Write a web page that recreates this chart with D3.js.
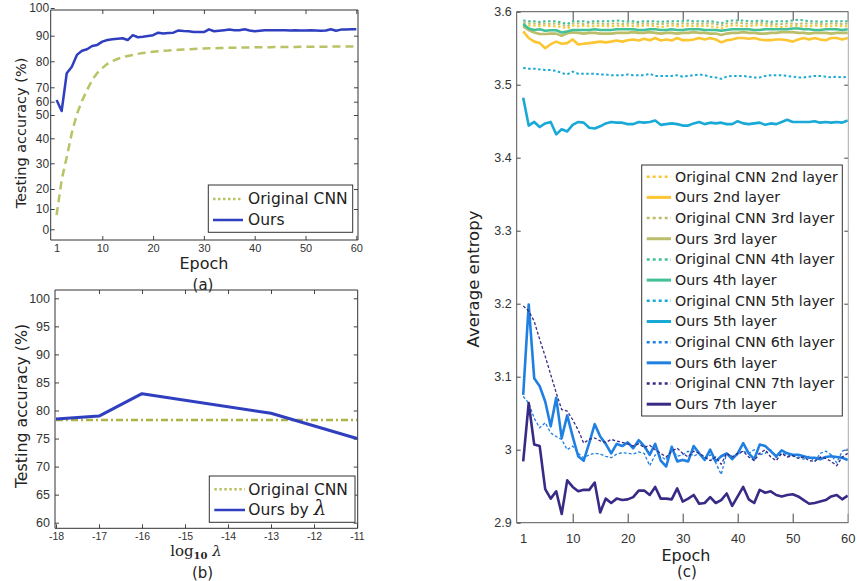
<!DOCTYPE html>
<html><head><meta charset="utf-8">
<script src="https://cdn.jsdelivr.net/npm/d3@7"></script>
<style>
body{margin:0;background:#fff;}
svg{display:block;font-family:"DejaVu Sans",sans-serif;}
.tick text{fill:#333;}
</style></head><body>
<svg id="chart" width="857" height="581"></svg>
<script>
// ---------------- DATA ----------------
const epochs = d3.range(1, 61);
const tickEpoch = [1, 10, 20, 30, 40, 50, 60];

// (a) testing accuracy by epoch
const accOriginalCNN = [7,23.5,32.5,42.3,50.8,60.5,68.1,72.8,75.5,77.4,79,80.1,80.9,81.7,82.1,82.5,82.9,83.2,83.5,83.7,
  83.9,84.1,84.2,84.4,84.5,84.6,84.7,84.8,84.9,85,85.1,85.1,85.2,85.2,85.3,85.3,85.4,85.4,85.4,85.5,
  85.5,85.5,85.5,85.6,85.6,85.6,85.6,85.6,85.7,85.7,85.7,85.7,85.7,85.7,85.8,85.8,85.8,85.8,85.8,85.8];
const accOurs = [61.2,53,75.4,77.9,82.5,84.1,84.7,86,86.4,87.7,88.3,88.6,88.8,89,88.3,90.2,89.4,89.6,89.9,90.2,
  91.1,90.8,91,91.1,91.9,91.7,91.6,91.3,91.3,91.3,92.3,91.6,91.8,92,92.2,92,92,92.3,91.9,91.6,
  91.8,92,92,92,92,92,91.9,92,91.9,91.9,92,91.9,91.8,91.9,92.3,91.8,92.2,92.2,92.3,92.3];
const tickA_Y = [0, 10, 20, 30, 40, 50, 60, 70, 80, 90, 100];

// (b) testing accuracy by lambda
const lambdaExp = [-18, -17, -16, -13, -11];
const accOursByLambda = [78.5, 79, 83, 79.5, 75];
const lambdaExpBaseline = [-18, -11];
const accOriginalBaseline = [78.3, 78.3];
const tickB_X = [-18, -17, -16, -15, -14, -13, -12, -11];
const tickB_Y = [60, 65, 70, 75, 80, 85, 90, 95, 100];

// (c) average entropy by epoch
const origL2 = [3.582,3.581,3.581,3.580,3.581,3.580,3.580,3.579,3.577,3.581,3.580,3.581,3.580,3.580,3.581,3.580,3.580,3.581,3.580,3.581,
  3.580,3.580,3.581,3.581,3.580,3.579,3.580,3.581,3.580,3.580,3.581,3.580,3.580,3.581,3.580,3.579,3.577,3.580,3.581,3.581,
  3.580,3.580,3.581,3.582,3.581,3.580,3.580,3.579,3.580,3.581,3.580,3.580,3.580,3.581,3.580,3.580,3.580,3.581,3.580,3.580];
const oursL2 = [3.573,3.564,3.559,3.557,3.550,3.5555,3.559,3.556,3.557,3.562,3.555,3.556,3.557,3.558,3.559,3.558,3.559,3.5605,3.559,3.561,
  3.562,3.5605,3.563,3.561,3.564,3.5605,3.562,3.5605,3.564,3.561,3.561,3.562,3.564,3.562,3.564,3.562,3.558,3.561,3.562,3.564,
  3.564,3.563,3.564,3.562,3.561,3.561,3.562,3.562,3.561,3.559,3.562,3.564,3.562,3.564,3.562,3.561,3.564,3.564,3.562,3.564];
const origL3 = [3.585,3.584,3.584,3.583,3.584,3.583,3.584,3.582,3.580,3.584,3.584,3.583,3.584,3.584,3.584,3.583,3.584,3.584,3.583,3.584,
  3.584,3.583,3.584,3.584,3.583,3.583,3.584,3.584,3.583,3.584,3.584,3.584,3.583,3.584,3.584,3.583,3.581,3.584,3.584,3.585,
  3.584,3.584,3.584,3.585,3.584,3.583,3.583,3.583,3.584,3.584,3.583,3.584,3.584,3.584,3.583,3.583,3.584,3.584,3.583,3.584];
const oursL3 = [3.580,3.575,3.5715,3.5695,3.5695,3.570,3.570,3.567,3.5705,3.5715,3.571,3.570,3.571,3.571,3.570,3.570,3.570,3.571,3.571,3.571,
  3.572,3.571,3.571,3.572,3.571,3.570,3.571,3.571,3.570,3.571,3.571,3.572,3.571,3.571,3.570,3.570,3.568,3.570,3.571,3.571,
  3.572,3.571,3.571,3.570,3.570,3.571,3.571,3.572,3.572,3.572,3.571,3.571,3.570,3.571,3.571,3.571,3.570,3.571,3.571,3.571];
const origL4 = [3.588,3.587,3.587,3.586,3.587,3.587,3.587,3.585,3.583,3.587,3.587,3.587,3.586,3.587,3.587,3.587,3.587,3.588,3.587,3.587,
  3.587,3.586,3.587,3.587,3.587,3.586,3.587,3.587,3.587,3.587,3.588,3.587,3.587,3.587,3.587,3.586,3.584,3.587,3.588,3.588,
  3.588,3.587,3.587,3.588,3.587,3.586,3.587,3.587,3.587,3.588,3.589,3.588,3.587,3.587,3.586,3.587,3.587,3.587,3.587,3.587];
const oursL4 = [3.583,3.577,3.575,3.576,3.574,3.5745,3.5745,3.5715,3.573,3.575,3.575,3.575,3.575,3.576,3.575,3.575,3.575,3.576,3.576,3.576,
  3.576,3.575,3.575,3.576,3.576,3.575,3.575,3.576,3.575,3.575,3.576,3.576,3.576,3.575,3.575,3.575,3.574,3.575,3.576,3.576,
  3.576,3.576,3.575,3.575,3.576,3.576,3.576,3.576,3.576,3.577,3.577,3.576,3.576,3.575,3.575,3.576,3.576,3.576,3.575,3.576];
const origL5 = [3.523,3.522,3.522,3.521,3.520,3.520,3.519,3.516,3.514,3.518,3.515,3.515,3.515,3.515,3.514,3.514,3.513,3.513,3.513,3.514,
  3.513,3.513,3.513,3.515,3.512,3.512,3.512,3.512,3.513,3.511,3.512,3.513,3.514,3.513,3.511,3.510,3.508,3.511,3.512,3.512,
  3.512,3.511,3.510,3.510,3.512,3.513,3.513,3.513,3.512,3.511,3.510,3.510,3.511,3.512,3.512,3.511,3.510,3.511,3.510,3.511];
const oursL5 = [3.482,3.444,3.449,3.442,3.447,3.449,3.432,3.439,3.436,3.445,3.449,3.448,3.441,3.440,3.443,3.447,3.449,3.448,3.448,3.446,
  3.446,3.449,3.448,3.449,3.451,3.445,3.446,3.447,3.446,3.444,3.444,3.447,3.449,3.446,3.448,3.447,3.448,3.446,3.446,3.450,
  3.447,3.446,3.447,3.448,3.445,3.447,3.446,3.449,3.452,3.449,3.449,3.449,3.449,3.450,3.448,3.449,3.448,3.449,3.448,3.451];
const origL6 = [3.073,3.064,3.043,3.030,3.037,3.023,3.018,3.014,3.000,3.005,2.995,2.989,2.993,2.995,2.994,2.991,2.989,2.994,2.996,2.995,
  2.994,2.997,2.995,2.978,2.993,2.991,2.986,3.000,2.991,2.993,2.998,2.991,2.995,2.986,2.993,2.982,2.966,2.995,2.991,2.993,
  2.998,2.995,3.000,2.993,2.995,3.000,2.989,2.995,2.993,2.991,2.990,2.987,2.991,2.984,2.995,2.998,2.993,2.982,2.998,3.001];
const oursL6 = [3.075,3.199,3.098,3.087,3.066,3.032,3.071,3.016,3.047,3.018,2.991,2.985,3.009,3.035,3.018,3.008,2.995,3.008,3.005,3.010,
  3.002,3.013,3.005,2.993,3.008,2.985,2.977,3.004,2.984,2.986,2.984,3.005,2.995,2.986,3.000,2.984,2.991,2.995,2.987,2.995,
  3.009,2.995,2.987,3.007,3.005,2.998,2.991,2.999,2.995,2.993,2.993,2.991,2.989,2.989,2.987,2.990,2.991,2.990,2.989,2.986];
const origL7 = [3.197,3.190,3.176,3.151,3.128,3.103,3.078,3.055,3.053,3.041,3.027,3.009,3.014,3.016,3.012,3.010,3.014,3.012,3.010,3.008,
  3.005,3.008,3.003,3.006,3.000,2.995,2.990,2.998,3.002,2.995,2.990,2.998,2.995,2.990,2.985,2.990,2.980,2.995,2.990,2.995,
  2.998,2.990,2.985,2.995,3.000,2.990,2.985,2.995,2.990,2.992,2.988,2.990,2.985,2.984,2.990,2.988,2.984,2.978,2.990,2.995];
const oursL7 = [2.984,3.064,3.007,3.005,2.946,2.933,2.943,2.912,2.958,2.949,2.943,2.945,2.945,2.955,2.914,2.933,2.927,2.933,2.931,2.932,
  2.935,2.944,2.944,2.938,2.949,2.933,2.933,2.932,2.947,2.929,2.933,2.938,2.926,2.927,2.935,2.927,2.931,2.940,2.923,2.936,
  2.949,2.932,2.927,2.945,2.941,2.943,2.938,2.936,2.938,2.939,2.936,2.931,2.926,2.927,2.929,2.931,2.936,2.938,2.932,2.937];
const seriesNamesC = ["Original CNN 2nd layer","Ours 2nd layer","Original CNN 3rd layer","Ours 3rd layer",
  "Original CNN 4th layer","Ours 4th layer","Original CNN 5th layer","Ours 5th layer",
  "Original CNN 6th layer","Ours 6th layer","Original CNN 7th layer","Ours 7th layer"];
const seriesValuesC = [origL2, oursL2, origL3, oursL3, origL4, oursL4, origL5, oursL5, origL6, oursL6, origL7, oursL7];
const tickC_Y = [2.9, 3.0, 3.1, 3.2, 3.3, 3.4, 3.5, 3.6];

// ---------------- STYLES ----------------
const colorsC = ["#fcc632","#fcc632","#bbbd6a","#bbbd6a","#43c095","#43c095","#18a9d6","#18a9d6","#1f80e2","#1f80e2","#372b86","#372b86"];
const greenA = "#b9c264", blueA = "#2f3fbf";

const svg = d3.select("#chart");
const textCol = "#222";

function box(x0, x1, y0, y1, col, rightCol) {
  svg.append("path").attr("d", `M${x0},${y1}V${y0}H${x1}`).attr("fill","none").attr("stroke",col).attr("stroke-width",1);
  svg.append("path").attr("d", `M${x0},${y1}H${x1}`).attr("fill","none").attr("stroke",col).attr("stroke-width",1);
  svg.append("path").attr("d", `M${x1},${y0}V${y1}`).attr("fill","none").attr("stroke",rightCol||col).attr("stroke-width",1);
}
function styleAxis(g, fs) {
  g.select(".domain").remove();
  g.selectAll(".tick line").attr("stroke","#444");
  g.selectAll(".tick text").attr("font-size", fs).attr("fill","#333");
}
function label(x, y, txt, fs, rot) {
  const t = svg.append("text").attr("x", x).attr("y", y).attr("text-anchor","middle")
    .attr("dy","0.35em").attr("font-size", fs).attr("fill", textCol).text(txt);
  if (rot) t.attr("transform", `rotate(-90,${x},${y})`);
  return t;
}

// ================= PANEL (a) =================
{
  const x0 = 50.7, x1 = 358, y0 = 10, y1 = 240;
  const x = d3.scaleLinear().domain([0, 60]).range([51.5, 356.3]);
  const y = d3.scaleLinear().domain(tickA_Y).range([229.3,209,189,163.3,138.3,115,101.7,87.3,61.3,35.7,8]);
  const gx = svg.append("g").attr("transform",`translate(0,${y1})`)
    .call(d3.axisBottom(x).tickValues(tickEpoch).tickSize(-4).tickSizeOuter(0).tickPadding(4));
  styleAxis(gx, 11);
  gx.selectAll(".tick").filter(d => d === 1).select("line").remove();
  const gxt = svg.append("g").attr("transform",`translate(0,${y0})`)
    .call(d3.axisTop(x).tickValues(tickEpoch.slice(1)).tickSize(-4).tickSizeOuter(0).tickFormat(""));
  styleAxis(gxt, 11);
  const gy = svg.append("g").attr("transform",`translate(${x0},0)`)
    .call(d3.axisLeft(y).tickValues(tickA_Y).tickSize(-4).tickSizeOuter(0).tickPadding(1.5));
  styleAxis(gy, 12);
  const gyr = svg.append("g").attr("transform",`translate(${x1},0)`)
    .call(d3.axisRight(y).tickValues(tickA_Y.slice(1,-1)).tickSize(-4).tickSizeOuter(0).tickFormat(""));
  styleAxis(gyr, 12);

  const line = d3.line().x((d,i) => x(epochs[i])).y(d => y(d));
  svg.append("path").datum(accOriginalCNN).attr("d", line).attr("fill","none")
    .attr("stroke", greenA).attr("stroke-width", 2.5).attr("stroke-dasharray","8,5");
  svg.append("path").datum(accOurs).attr("d", line).attr("fill","none")
    .attr("stroke", blueA).attr("stroke-width", 2.5).attr("stroke-linejoin","round");
  box(x0, x1, y0, y1, "#333");

  svg.append("rect").attr("x",208.3).attr("y",185).attr("width",144.4).attr("height",47.3)
    .attr("fill","#fff").attr("stroke","#333").attr("stroke-width",1);
  svg.append("line").attr("x1",213).attr("x2",243).attr("y1",199).attr("y2",199)
    .attr("stroke",greenA).attr("stroke-width",2.5).attr("stroke-dasharray","2.5,2.5");
  svg.append("line").attr("x1",213).attr("x2",243).attr("y1",220).attr("y2",220)
    .attr("stroke",blueA).attr("stroke-width",2.5);
  svg.append("text").attr("x",248).attr("y",199).attr("dy","0.35em").attr("font-size",15.5).attr("fill",textCol).text("Original CNN");
  svg.append("text").attr("x",248).attr("y",220).attr("dy","0.35em").attr("font-size",15.5).attr("fill",textCol).text("Ours");

  label(21, 133, "Testing accuracy (%)", 14.5, true);
  label(204, 263, "Epoch", 16);
  label(203, 285, "(a)", 15);
}

// ================= PANEL (b) =================
{
  const x0 = 55, x1 = 357.7, y0 = 290, y1 = 528.3;
  const x = d3.scaleLinear().domain([-18, -11]).range([56, 357]);
  const y = d3.scaleLinear().domain([60, 100]).range([522.7, 298.3]);
  const gx = svg.append("g").attr("transform",`translate(0,${y1})`)
    .call(d3.axisBottom(x).tickValues(tickB_X).tickSize(-4).tickSizeOuter(0).tickPadding(4).tickFormat(d => "-" + Math.abs(d)));
  styleAxis(gx, 10.5);
  const gxt = svg.append("g").attr("transform",`translate(0,${y0})`)
    .call(d3.axisTop(x).tickValues(tickB_X.slice(1,-1)).tickSize(-4).tickSizeOuter(0).tickFormat(""));
  styleAxis(gxt, 11);
  const gy = svg.append("g").attr("transform",`translate(${x0},0)`)
    .call(d3.axisLeft(y).tickValues(tickB_Y).tickSize(-4).tickSizeOuter(0).tickPadding(5));
  styleAxis(gy, 12.5);
  const gyr = svg.append("g").attr("transform",`translate(${x1},0)`)
    .call(d3.axisRight(y).tickValues(tickB_Y).tickSize(-4).tickSizeOuter(0).tickFormat(""));
  styleAxis(gyr, 12);

  svg.append("path").datum(accOriginalBaseline)
    .attr("d", d3.line().x((d,i) => x(lambdaExpBaseline[i])).y(d => y(d)))
    .attr("fill","none").attr("stroke","#adb347").attr("stroke-width",2.5).attr("stroke-dasharray","7,3,2,3");
  svg.append("path").datum(accOursByLambda)
    .attr("d", d3.line().x((d,i) => x(lambdaExp[i])).y(d => y(d)))
    .attr("fill","none").attr("stroke",blueA).attr("stroke-width",3).attr("stroke-linejoin","round");
  box(x0, x1, y0, y1, "#333");

  svg.append("rect").attr("x",209.3).attr("y",476).attr("width",145.7).attr("height",46.3)
    .attr("fill","#fff").attr("stroke","#333").attr("stroke-width",1);
  svg.append("line").attr("x1",214.3).attr("x2",245).attr("y1",489.3).attr("y2",489.3)
    .attr("stroke",greenA).attr("stroke-width",2.5).attr("stroke-dasharray","2.5,2.5");
  svg.append("line").attr("x1",214.3).attr("x2",245).attr("y1",510).attr("y2",510)
    .attr("stroke",blueA).attr("stroke-width",2.5);
  svg.append("text").attr("x",248.3).attr("y",489.3).attr("dy","0.35em").attr("font-size",15.5).attr("fill",textCol).text("Original CNN");
  const t2 = svg.append("text").attr("x",248.3).attr("y",510).attr("dy","0.35em").attr("font-size",15.5).attr("fill",textCol);
  t2.append("tspan").text("Ours by ");
  t2.append("tspan").attr("font-family","'DejaVu Serif',serif").attr("font-style","italic").attr("font-size",20).text("λ");

  label(21, 406, "Testing accuracy (%)", 15.8, true);
  const lt = svg.append("text").attr("x",196).attr("y",551).attr("text-anchor","middle").attr("dy","0.3em")
    .attr("font-family","'DejaVu Serif','Liberation Serif',serif").attr("font-size",15).attr("fill",textCol);
  lt.append("tspan").text("log");
  lt.append("tspan").attr("font-size",10).attr("font-weight","bold").attr("dy","3").text("10");
  lt.append("tspan").attr("dy","-3").text(" ");
  lt.append("tspan").attr("font-style","italic").text("λ");
  label(202.5, 573, "(b)", 15);
}

// ================= PANEL (c) =================
{
  const x0 = 516.7, x1 = 848.3, y0 = 11.7, y1 = 522.7;
  const x = d3.scaleLinear().domain([0, 60]).range([517.7, 847.7]);
  const y = d3.scaleLinear().domain([2.9, 3.6]).range([y1, y0]);
  const gx = svg.append("g").attr("transform",`translate(0,${y1})`)
    .call(d3.axisBottom(x).tickValues(tickEpoch).tickSize(-9).tickSizeOuter(0).tickPadding(11));
  styleAxis(gx, 13);
  gx.selectAll(".tick").filter(d => d === 1).select("line").remove();
  const gxt = svg.append("g").attr("transform",`translate(0,${y0})`)
    .call(d3.axisTop(x).tickValues(tickEpoch.slice(1)).tickSize(-9).tickSizeOuter(0).tickFormat(""));
  styleAxis(gxt, 12);
  const gy = svg.append("g").attr("transform",`translate(${x0},0)`)
    .call(d3.axisLeft(y).tickValues(tickC_Y).tickSize(-4).tickSizeOuter(0).tickPadding(5)
      .tickFormat(d => String(+d.toFixed(1))));
  styleAxis(gy, 12.5);
  const gyr = svg.append("g").attr("transform",`translate(${x1},0)`)
    .call(d3.axisRight(y).tickValues(tickC_Y.slice(1,-1)).tickSize(-4).tickSizeOuter(0).tickFormat(""));
  styleAxis(gyr, 12);

  const line = d3.line().x((d,i) => x(epochs[i])).y(d => y(d));
  seriesValuesC.forEach((vals, k) => {
    const isOrig = k % 2 === 0;
    const thin = isOrig && k >= 8;
    svg.append("path").datum(vals).attr("d", line).attr("fill","none")
      .attr("stroke", colorsC[k])
      .attr("stroke-width", isOrig ? (thin ? 1.3 : 2) : 2.6)
      .attr("stroke-dasharray", isOrig ? (thin ? "3,2" : "2.5,2.5") : null)
      .attr("stroke-linejoin","round");
  });
  box(x0, x1, y0, y1, "#555", "#aaa");

  svg.append("rect").attr("x",641.7).attr("y",165).attr("width",200.6).attr("height",251)
    .attr("fill","#fff").attr("stroke","#333").attr("stroke-width",1);
  const ly = d3.scaleLinear().domain([0, 11]).range([176.7, 404.2]);
  seriesNamesC.forEach((name, k) => {
    const isOrig = k % 2 === 0;
    svg.append("line").attr("x1",646.7).attr("x2",671).attr("y1",ly(k)).attr("y2",ly(k))
      .attr("stroke",colorsC[k]).attr("stroke-width", isOrig ? 2.5 : 3)
      .attr("stroke-dasharray", isOrig ? "3,3" : null);
    svg.append("text").attr("x",675).attr("y",ly(k)).attr("dy","0.35em").attr("font-size",14.2)
      .attr("fill",textCol).text(name);
  });

  label(473, 279, "Average entropy", 16.5, true);
  label(686, 555, "Epoch", 16);
  label(687, 572, "(c)", 15);
}
</script>
</body></html>
